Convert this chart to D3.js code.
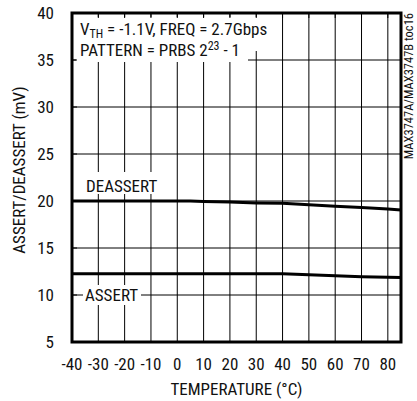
<!DOCTYPE html>
<html>
<head>
<meta charset="utf-8">
<script src="https://cdn.jsdelivr.net/npm/d3@7"></script>
<style>
  body { margin: 0; background: #fff; }
  svg text { font-family: "Roboto Condensed", "Arial Narrow", sans-serif; fill: #111; }
</style>
</head>
<body>
<svg id="chart" width="417" height="401"></svg>
<script>
// temperature (°C) vs threshold (mV)
const temps = [-40, -30, -20, -10, 0, 5, 10, 20, 30, 40, 50, 60, 70, 80, 85];
const deassert = [20.0, 20.0, 20.0, 20.0, 20.0, 20.0, 19.95, 19.9, 19.8, 19.75, 19.6, 19.45, 19.3, 19.15, 19.05];
const assert = [12.25, 12.25, 12.25, 12.25, 12.25, 12.25, 12.25, 12.25, 12.25, 12.25, 12.15, 12.05, 11.95, 11.9, 11.85];

const xTicks = [-40, -30, -20, -10, 0, 10, 20, 30, 40, 50, 60, 70, 80];
const yTicks = [5, 10, 15, 20, 25, 30, 35, 40];

const width = 417, height = 401;
const margin = { top: 13, right: 16, bottom: 59, left: 72 };

const svg = d3.select("#chart");

const x = d3.scaleLinear().domain([-40, 85]).range([margin.left, width - margin.right]);
const y = d3.scaleLinear().domain([5, 40]).range([height - margin.bottom, margin.top]);

// grid
const grid = svg.append("g").attr("stroke", "#000").attr("stroke-width", 1);
xTicks.filter(d => d > -40).forEach(d => {
  grid.append("line")
    .attr("x1", x(d)).attr("x2", x(d))
    .attr("y1", y(40)).attr("y2", y(5));
});
yTicks.filter(d => d > 5 && d < 40).forEach(d => {
  grid.append("line")
    .attr("x1", x(-40)).attr("x2", x(85))
    .attr("y1", y(d)).attr("y2", y(d));
});

// curves
const line = d3.line().x(d => x(d[0])).y(d => y(d[1]));
[deassert, assert].forEach(series => {
  svg.append("path")
    .datum(temps.map((t, i) => [t, series[i]]))
    .attr("fill", "none")
    .attr("stroke", "#000")
    .attr("stroke-width", 3)
    .attr("d", line);
});

// label boxes that hide the grid behind text
const boxes = svg.append("g").attr("fill", "#fff");
boxes.append("rect").attr("x", x(-40) + 1).attr("y", y(40) + 4).attr("width", 198).attr("height", 34);
boxes.append("rect").attr("x", x(-40) + 4).attr("y", y(35) - 22).attr("width", 172).attr("height", 24);
boxes.append("rect").attr("x", 84).attr("y", y(20) - 29).attr("width", 76).attr("height", 22);
boxes.append("rect").attr("x", 83).attr("y", y(10) - 10).attr("width", 58).attr("height", 20);

const fs = 17;
const note1 = svg.append("text").attr("x", 80).attr("y", 35).attr("font-size", fs);
note1.append("tspan").text("V");
note1.append("tspan").attr("font-size", 12).attr("dy", 3).text("TH");
note1.append("tspan").attr("dy", -3).text(" = -1.1V, FREQ = 2.7Gbps");

const note2 = svg.append("text").attr("x", 80).attr("y", 56).attr("font-size", fs);
note2.append("tspan").text("PATTERN = PRBS 2");
note2.append("tspan").attr("font-size", 12).attr("dy", -6).text("23");
note2.append("tspan").attr("dy", 6).text(" - 1");

svg.append("text").attr("x", 86).attr("y", y(20) - 9).attr("font-size", fs).text("DEASSERT");
svg.append("text").attr("x", 85).attr("y", y(10) + 6).attr("font-size", fs).text("ASSERT");

// inner ticks on the frame
const tk = svg.append("g").attr("stroke", "#000").attr("stroke-width", 1);
xTicks.filter(d => d > -40).forEach(d => {
  tk.append("line").attr("x1", x(d)).attr("x2", x(d)).attr("y1", y(40)).attr("y2", y(40) + 5);
});
yTicks.filter(d => d > 5 && d < 40).forEach(d => {
  tk.append("line").attr("x1", x(-40)).attr("x2", x(-40) + 5).attr("y1", y(d)).attr("y2", y(d));
});

// frame
svg.append("rect")
  .attr("x", x(-40)).attr("y", y(40))
  .attr("width", x(85) - x(-40)).attr("height", y(5) - y(40))
  .attr("fill", "none").attr("stroke", "#000").attr("stroke-width", 3);

// axis labels
svg.append("g").selectAll("text").data(xTicks).join("text")
  .attr("x", d => x(d)).attr("y", height - margin.bottom + 28)
  .attr("text-anchor", "middle").attr("font-size", fs)
  .text(d => d);

svg.append("g").selectAll("text").data(yTicks).join("text")
  .attr("x", margin.left - 18).attr("y", d => y(d) + 6)
  .attr("text-anchor", "end").attr("font-size", fs)
  .text(d => d);

svg.append("text")
  .attr("x", (x(-40) + x(85)) / 2).attr("y", height - 6)
  .attr("text-anchor", "middle").attr("font-size", fs)
  .text("TEMPERATURE (°C)");

svg.append("text")
  .attr("transform", `translate(25,170) rotate(-90)`)
  .attr("text-anchor", "middle").attr("font-size", fs)
  .text("ASSERT/DEASSERT (mV)");

svg.append("text")
  .attr("transform", `translate(413,${margin.top}) rotate(-90)`)
  .attr("text-anchor", "end").attr("font-size", 12.5)
  .text("MAX3747A/MAX3747B toc16");
</script>
</body>
</html>
